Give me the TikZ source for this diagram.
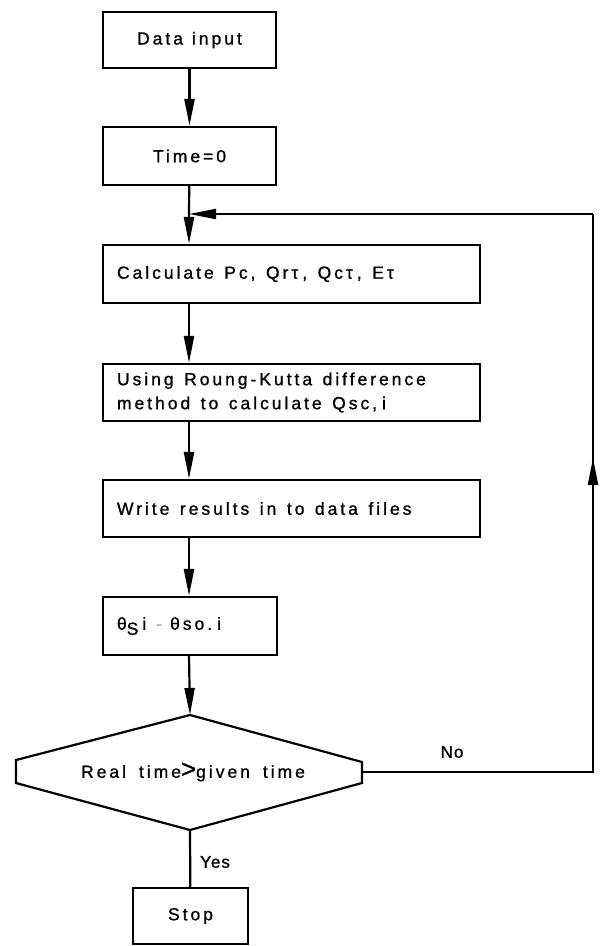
\documentclass[tikz,border=0pt]{standalone}
\usepackage{fontspec}
\setmainfont{Liberation Sans}[LetterSpace=17,FakeBold=1]
\newfontfamily\plainfont{Liberation Sans}[LetterSpace=6,FakeBold=1]
\usetikzlibrary{arrows.meta}
\newcommand{\boxfont}{\fontsize{17.5}{24}\selectfont}
\newcommand{\decisionfont}{\fontsize{17.5}{20}\selectfont}
\newcommand{\bigger}{\fontsize{26}{20}\selectfont}
\newcommand{\wsp}{\hspace{10.5pt}}
\newcommand{\dsp}{\hspace{13pt}}
\tikzset{
  box/.style={draw, line width=2.2pt, inner sep=0pt, font=\boxfont},
  leftbox/.style={box, text width=349pt, align=left, inner xsep=14pt},
  conn/.style={line width=2.2pt},
  arr/.style={conn, -{Triangle[length=27pt,width=10pt]}},
  lbl/.style={font=\plainfont\fontsize{17}{20}\selectfont, inner sep=0pt},
  dectext/.style={font=\decisionfont, inner sep=0pt},
  dec/.style={line width=2.2pt, line join=miter}
}
\begin{document}
\begin{tikzpicture}[x=1pt,y=-1pt]
\useasboundingbox (0,0) rectangle (600,946);
\node[box, minimum width=173pt, minimum height=56pt] (din) at (189.5,40) {Data\hspace{9pt}input};
\node[box, minimum width=173pt, minimum height=58pt] (t0) at (189.5,156) {Time=0};
\node[leftbox, minimum height=58pt] (calc) at (291.5,274) {Calculate\wsp Pc,\wsp Qrτ\hspace{4pt},\wsp Qcτ\hspace{4pt},\wsp E\hspace{3pt}τ};
\node[leftbox, minimum height=57pt] (rk) at (291.5,392.5) {Using\wsp Roung-Kutta\wsp difference\\method\wsp to\wsp calculate\wsp Qsc,\hspace{5pt}i};
\node[leftbox, minimum height=57pt] (wr) at (291.5,508.5) {Write\wsp results\wsp in\wsp to\wsp data\wsp files};
\node[box, minimum width=174pt, minimum height=58pt, text width=146pt, align=left, inner xsep=14pt] (th) at (190,626) {θ\raisebox{-5pt}{S}\hspace{4pt}i\hspace{10pt}\textcolor{black!30}{-}\hspace{8pt}θso.\hspace{5pt}i};
% decision
\coordinate (dtop) at (190,715);
\coordinate (dbot) at (190,830);
\coordinate (dright) at (362,772);
\draw[dec] (dtop) -- (362,762) -- (362,783) -- (dbot) -- (16,783) -- (16,760) -- cycle;
\node[dectext] (dtext) at (193,772) {Real\dsp time{\bigger >}given\dsp time};
\node[box, minimum width=115pt, minimum height=56pt] (stop) at (190.5,916) {Stop};
% connectors
\draw[arr] (din) -- (t0);
\coordinate (join) at (189,214);
\coordinate (rtop) at (593,214);
\coordinate (rbot) at (593,772);
\coordinate (rmid) at (593,458);
\coordinate (rmid0) at (593,520);
\draw[conn] (t0) -- (join);
\draw[arr] (join) -- (calc.north -| join);
\draw[arr] (calc.south -| join) -- (rk.north -| join);
\draw[arr] (rk.south -| join) -- (wr.north -| join);
\draw[arr] (wr.south -| join) -- (th.north -| join);
\draw[arr] (th.south -| join) -- (dtop);
\draw[conn] (dright) -- (rbot) -- (rtop);
\draw[arr] (rtop) -- (join);
\draw[arr] (rmid0) -- (rmid);
\draw[conn] (dbot) -- (stop);
\node[lbl] (no) at (452,752) {No};
\node[lbl] (yes) at (215,862) {Yes};
\end{tikzpicture}
\end{document}
